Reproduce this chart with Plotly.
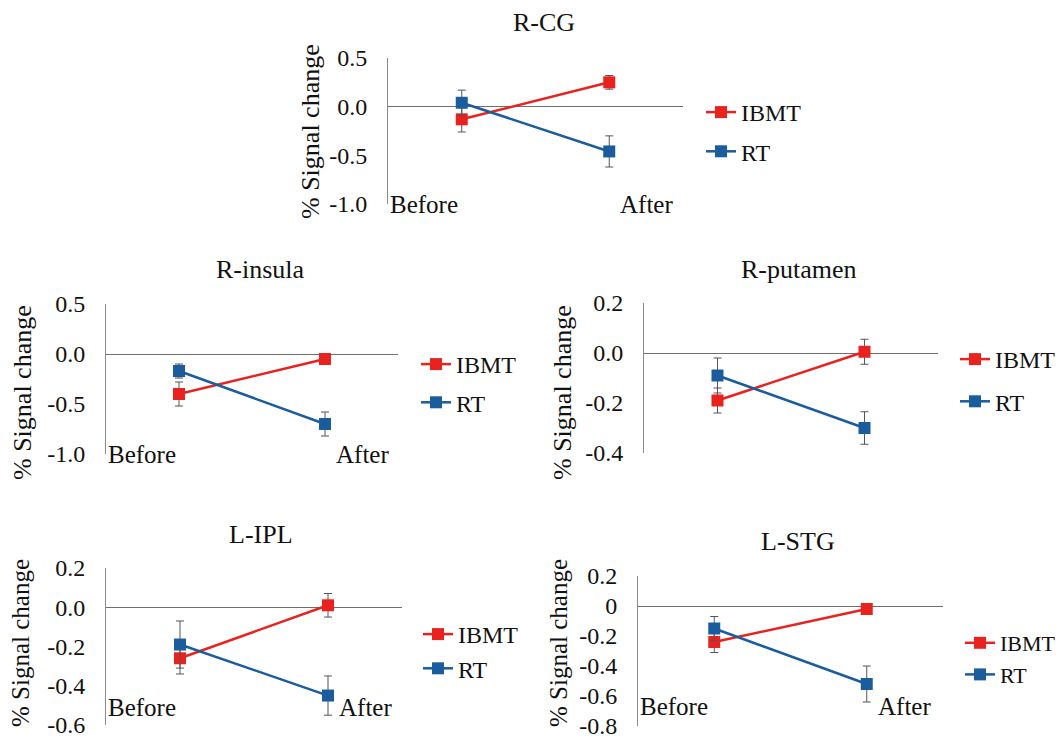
import plotly.graph_objects as go

# ---- data ----
panel_titles = ["R-CG", "R-insula", "R-putamen", "L-IPL", "L-STG"]
categories = ["Before", "After"]
series_names = ["IBMT", "RT"]

ibmt_vals = [[-0.13, 0.25], [-0.40, -0.05], [-0.19, 0.005], [-0.26, 0.01], [-0.24, -0.02]]
ibmt_err = [[0.13, 0.07], [0.12, 0.05], [0.05, 0.05], [0.08, 0.06], [0.07, 0.03]]
rt_vals = [[0.04, -0.46], [-0.17, -0.70], [-0.09, -0.30], [-0.19, -0.45], [-0.15, -0.52]]
rt_err = [[0.13, 0.16], [0.07, 0.12], [0.07, 0.065], [0.12, 0.10], [0.08, 0.12]]

y_ranges = [[-1.0, 0.5], [-1.0, 0.5], [-0.4, 0.2], [-0.6, 0.2], [-0.8, 0.2]]
y_tickvals = [
    [0.5, 0.0, -0.5, -1.0],
    [0.5, 0.0, -0.5, -1.0],
    [0.2, 0.0, -0.2, -0.4],
    [0.2, 0.0, -0.2, -0.4, -0.6],
    [0.2, 0.0, -0.2, -0.4, -0.6, -0.8],
]
y_ticktext = [
    ["0.5", "0.0", "-0.5", "-1.0"],
    ["0.5", "0.0", "-0.5", "-1.0"],
    ["0.2", "0.0", "-0.2", "-0.4"],
    ["0.2", "0.0", "-0.2", "-0.4", "-0.6"],
    ["0.2", "0", "-0.2", "-0.4", "-0.6", "-0.8"],
]
ytitle = "% Signal change"

# ---- layout geometry (screen pixels of the 1064x741 page) ----
OFF = 8                      # default page body margin
W, H = 1064 - OFF, 741 - OFF
px_x = [(388, 683), (106, 398), (644, 938), (106, 402), (638, 943)]
px_y = [(58, 204), (304, 454), (303, 453), (568, 725), (576, 726)]
title_pos = [(544, 23), (260, 269), (799, 269), (261, 534), (798, 541)]
ytitle_pos = [(310, 132), (22, 393), (562, 393), (20, 643), (558, 643)]
ytitle_size = [26, 26, 26, 25, 25]
legend_pos = [(701, 90), (416, 342), (955, 337), (418, 612), (960, 622)]
legend_gap = [5, 4, 8, 0, 0]
legend_font = [24, 24, 24, 24, 22]
cat_label_y = [-1.0, -1.0, -0.41, -0.51, -0.67]


def fx(p):
    return (p - OFF) / W


def fy(p):
    return 1 - (p - OFF) / H


RED = "#E8231F"
BLUE = "#1A5C9C"
FONT = "Liberation Serif, Times New Roman, serif"

fig = go.Figure()
layout = dict(
    width=W, height=H, margin=dict(l=0, r=0, t=0, b=0, autoexpand=False),
    paper_bgcolor="white", plot_bgcolor="white",
    font=dict(family=FONT, size=24, color="#111111"),
    annotations=[],
)

for i in range(5):
    n = "" if i == 0 else str(i + 1)
    xa, ya = "x" + n, "y" + n
    leg = "legend" + n
    for name, vals, errs, col in [
        (series_names[0], ibmt_vals[i], ibmt_err[i], RED),
        (series_names[1], rt_vals[i], rt_err[i], BLUE),
    ]:
        fig.add_trace(go.Scatter(
            x=categories, y=vals, name=name, mode="lines+markers",
            line=dict(color=col, width=2.5),
            marker=dict(symbol="square", size=12, color=col),
            error_y=dict(type="data", array=errs, visible=True,
                         color="#555555", thickness=1, width=4),
            xaxis=xa, yaxis=ya, legend=leg, legendgroup=name + n,
        ))
    x0, x1 = px_x[i]
    yt, yb = px_y[i]
    layout["xaxis" + n] = dict(
        domain=[fx(x0), fx(x1)], range=[-0.5, 1.5], type="category",
        showticklabels=False, showline=False, showgrid=False, zeroline=False,
        anchor=ya, fixedrange=True, automargin=False,
    )
    layout["yaxis" + n] = dict(
        domain=[fy(yb), fy(yt)], range=y_ranges[i],
        tickvals=y_tickvals[i], ticktext=y_ticktext[i],
        showline=True, linecolor="#8a8a8a", linewidth=1,
        showgrid=False, zeroline=True, zerolinecolor="#6e6e6e", zerolinewidth=1,
        ticks="", ticklabelstandoff=15, tickfont=dict(size=24),
        anchor=xa, fixedrange=True, automargin=False,
    )
    lx, ly = legend_pos[i]
    layout[leg] = dict(
        x=fx(lx), y=fy(ly), xanchor="left", yanchor="top",
        font=dict(size=legend_font[i], family=FONT), bgcolor="rgba(0,0,0,0)",
        tracegroupgap=legend_gap[i], itemwidth=30,
    )
    tx, ty = title_pos[i]
    layout["annotations"].append(dict(
        text=panel_titles[i], x=fx(tx), y=fy(ty), xref="paper", yref="paper",
        xanchor="center", yanchor="middle", showarrow=False, font=dict(size=26),
    ))
    ax, ay = ytitle_pos[i]
    layout["annotations"].append(dict(
        text=ytitle, x=fx(ax), y=fy(ay), xref="paper", yref="paper",
        xanchor="center", yanchor="middle", textangle=-90, showarrow=False,
        font=dict(size=ytitle_size[i]),
    ))
    layout["annotations"].append(dict(
        text=categories[0], x=-0.5, y=cat_label_y[i], xref=xa, yref=ya,
        xanchor="left", yanchor="middle", xshift=0, showarrow=False,
        font=dict(size=25),
    ))
    layout["annotations"].append(dict(
        text=categories[1], x=1, y=cat_label_y[i], xref=xa, yref=ya,
        xanchor="left", yanchor="middle", xshift=9, showarrow=False,
        font=dict(size=25),
    ))

fig.update_layout(**layout)
fig.write_html("out.html")
